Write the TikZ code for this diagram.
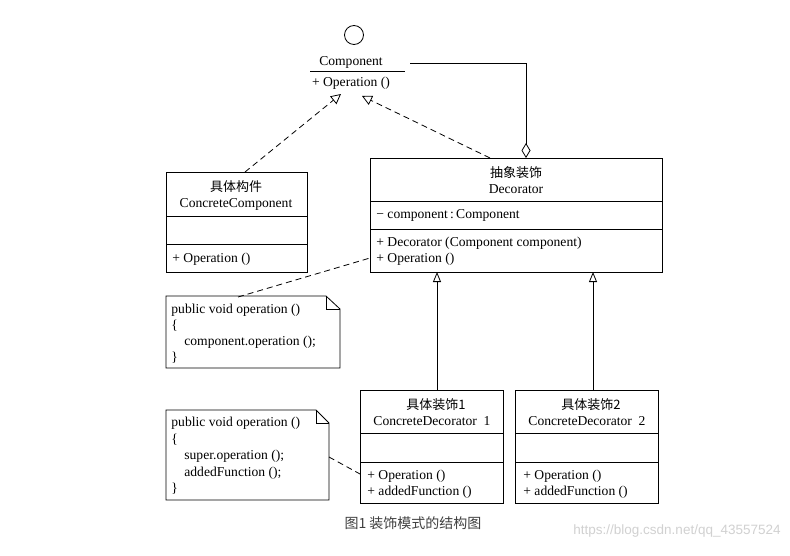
\documentclass[tikz,border=0pt]{standalone}
\usepackage{fontspec}
\setmainfont{Liberation Serif}
\newfontfamily\cjk{Noto Sans CJK SC}
\newfontfamily\capfont{Liberation Sans}
\usetikzlibrary{arrows.meta}
\begin{document}
\begin{tikzpicture}[x=1pt,y=-1pt,
  line width=0.8pt,
  cls/.style={draw, anchor=north west, inner sep=0, outer sep=0},
  txt/.style={font=\fontsize{13.6}{15}\selectfont, inner sep=0},
  ltxt/.style={txt, anchor=west},
  ctxt/.style={font=\cjk\fontsize{13}{15}\selectfont, inner sep=0},
  realize/.style={dashed, dash pattern=on 6pt off 4pt, -{Triangle[open,length=10pt,width=10pt]}},
  inherit/.style={-{Triangle[open,length=10pt,width=8pt]}},
  notelink/.style={dashed, dash pattern=on 6pt off 4pt},
  agg/.style={-{Diamond[open,length=15pt,width=9pt]}}
]
\useasboundingbox (0,0) rectangle (790,556);
\fill[white] (0,0) rectangle (790,556);

% Component interface
\node[draw, circle, minimum size=19pt, inner sep=0] (lollipop) at (354,35) {};
\node[txt] (compname) at (351,62) {Component};
\node[txt] (compop) at (351,83) {+ Operation ()};
\draw (310,71) -- (405,71);
\coordinate (compR) at (410,63);
\coordinate (tipL) at (341,94);
\coordinate (tipR) at (362,96);

% Decorator
\node[cls, minimum width=292pt, minimum height=114pt] (dec) at (370,158) {};
\draw (370,201) -- (662,201);
\draw (370,229) -- (662,229);
\node[ctxt] at (516,173) {抽象装饰};
\node[txt] at (516,189) {Decorator};
\node[ltxt] at (376,215) {− component\,:\,Component};
\node[ltxt] at (376,243) {+ Decorator (Component component)};
\node[ltxt] at (376,259) {+ Operation ()};

% ConcreteComponent
\node[cls, minimum width=141pt, minimum height=100pt] (cc) at (166,172) {};
\draw (166,216) -- (307,216);
\draw (166,244) -- (307,244);
\node[ctxt] at (236,187) {具体构件};
\node[txt] at (236,204) {ConcreteComponent};
\node[ltxt] at (172,259) {+ Operation ()};

% Note 1
\draw (166,296) -- (326,296) -- (340,309) -- (340,368) -- (166,368) -- cycle;
\draw (326,296) -- (326,309) -- (340,309);
\node[ltxt] at (171,310) {public void operation ()};
\node[ltxt] at (171,326) {\{};
\node[ltxt] at (184,342) {component.operation ();};
\node[ltxt] at (171,358) {\}};
\coordinate (n1top) at (238,297);

% ConcreteDecorator 1
\node[cls, minimum width=143pt, minimum height=113pt] (cd1) at (360,390) {};
\draw (360,433) -- (503,433);
\draw (360,462) -- (503,462);
\node[ctxt] at (436,405) {具体装饰1};
\node[txt] at (432,421) {ConcreteDecorator\ \ 1};
\node[ltxt] at (367,476) {+ Operation ()};
\node[ltxt] at (367,492) {+ addedFunction ()};

% ConcreteDecorator 2
\node[cls, minimum width=143pt, minimum height=113pt] (cd2) at (515,390) {};
\draw (515,433) -- (658,433);
\draw (515,462) -- (658,462);
\node[ctxt] at (591,405) {具体装饰2};
\node[txt] at (587,421) {ConcreteDecorator\ \ 2};
\node[ltxt] at (523,476) {+ Operation ()};
\node[ltxt] at (523,492) {+ addedFunction ()};

% Note 2
\draw (166,410) -- (316,410) -- (329,423) -- (329,500) -- (166,500) -- cycle;
\draw (316,410) -- (316,423) -- (329,423);
\node[ltxt] at (171,423) {public void operation ()};
\node[ltxt] at (171,440) {\{};
\node[ltxt] at (184,456) {super.operation ();};
\node[ltxt] at (184,473) {addedFunction ();};
\node[ltxt] at (171,489) {\}};
\coordinate (n2R) at (329,457);

% Connectors
\draw[realize] (cc.north -| 245,0) -- (tipL);
\draw[realize] (dec.north -| 490,0) -- (tipR);
\draw[agg] (compR) -| (dec.north -| 526,0);
\draw[inherit] (cd1.north -| 437,0) -- (dec.south -| 437,0);
\draw[inherit] (cd2.north -| 593,0) -- (dec.south -| 593,0);
\draw[notelink] (n1top) -- (dec.west |- 0,258);
\draw[notelink] (n2R) -- (cd1.west |- 0,474);

% Caption and watermark
\node[font=\cjk\fontsize{14}{16}\selectfont, text=black!75, inner sep=0] (cap) at (413,523) {图1 装饰模式的结构图};
\node[font=\capfont\fontsize{13.5}{15}\selectfont, text=black!18, inner sep=0, anchor=east] (wm) at (781,531) {https://blog.csdn.net/qq\_43557524};
\end{tikzpicture}
\end{document}
